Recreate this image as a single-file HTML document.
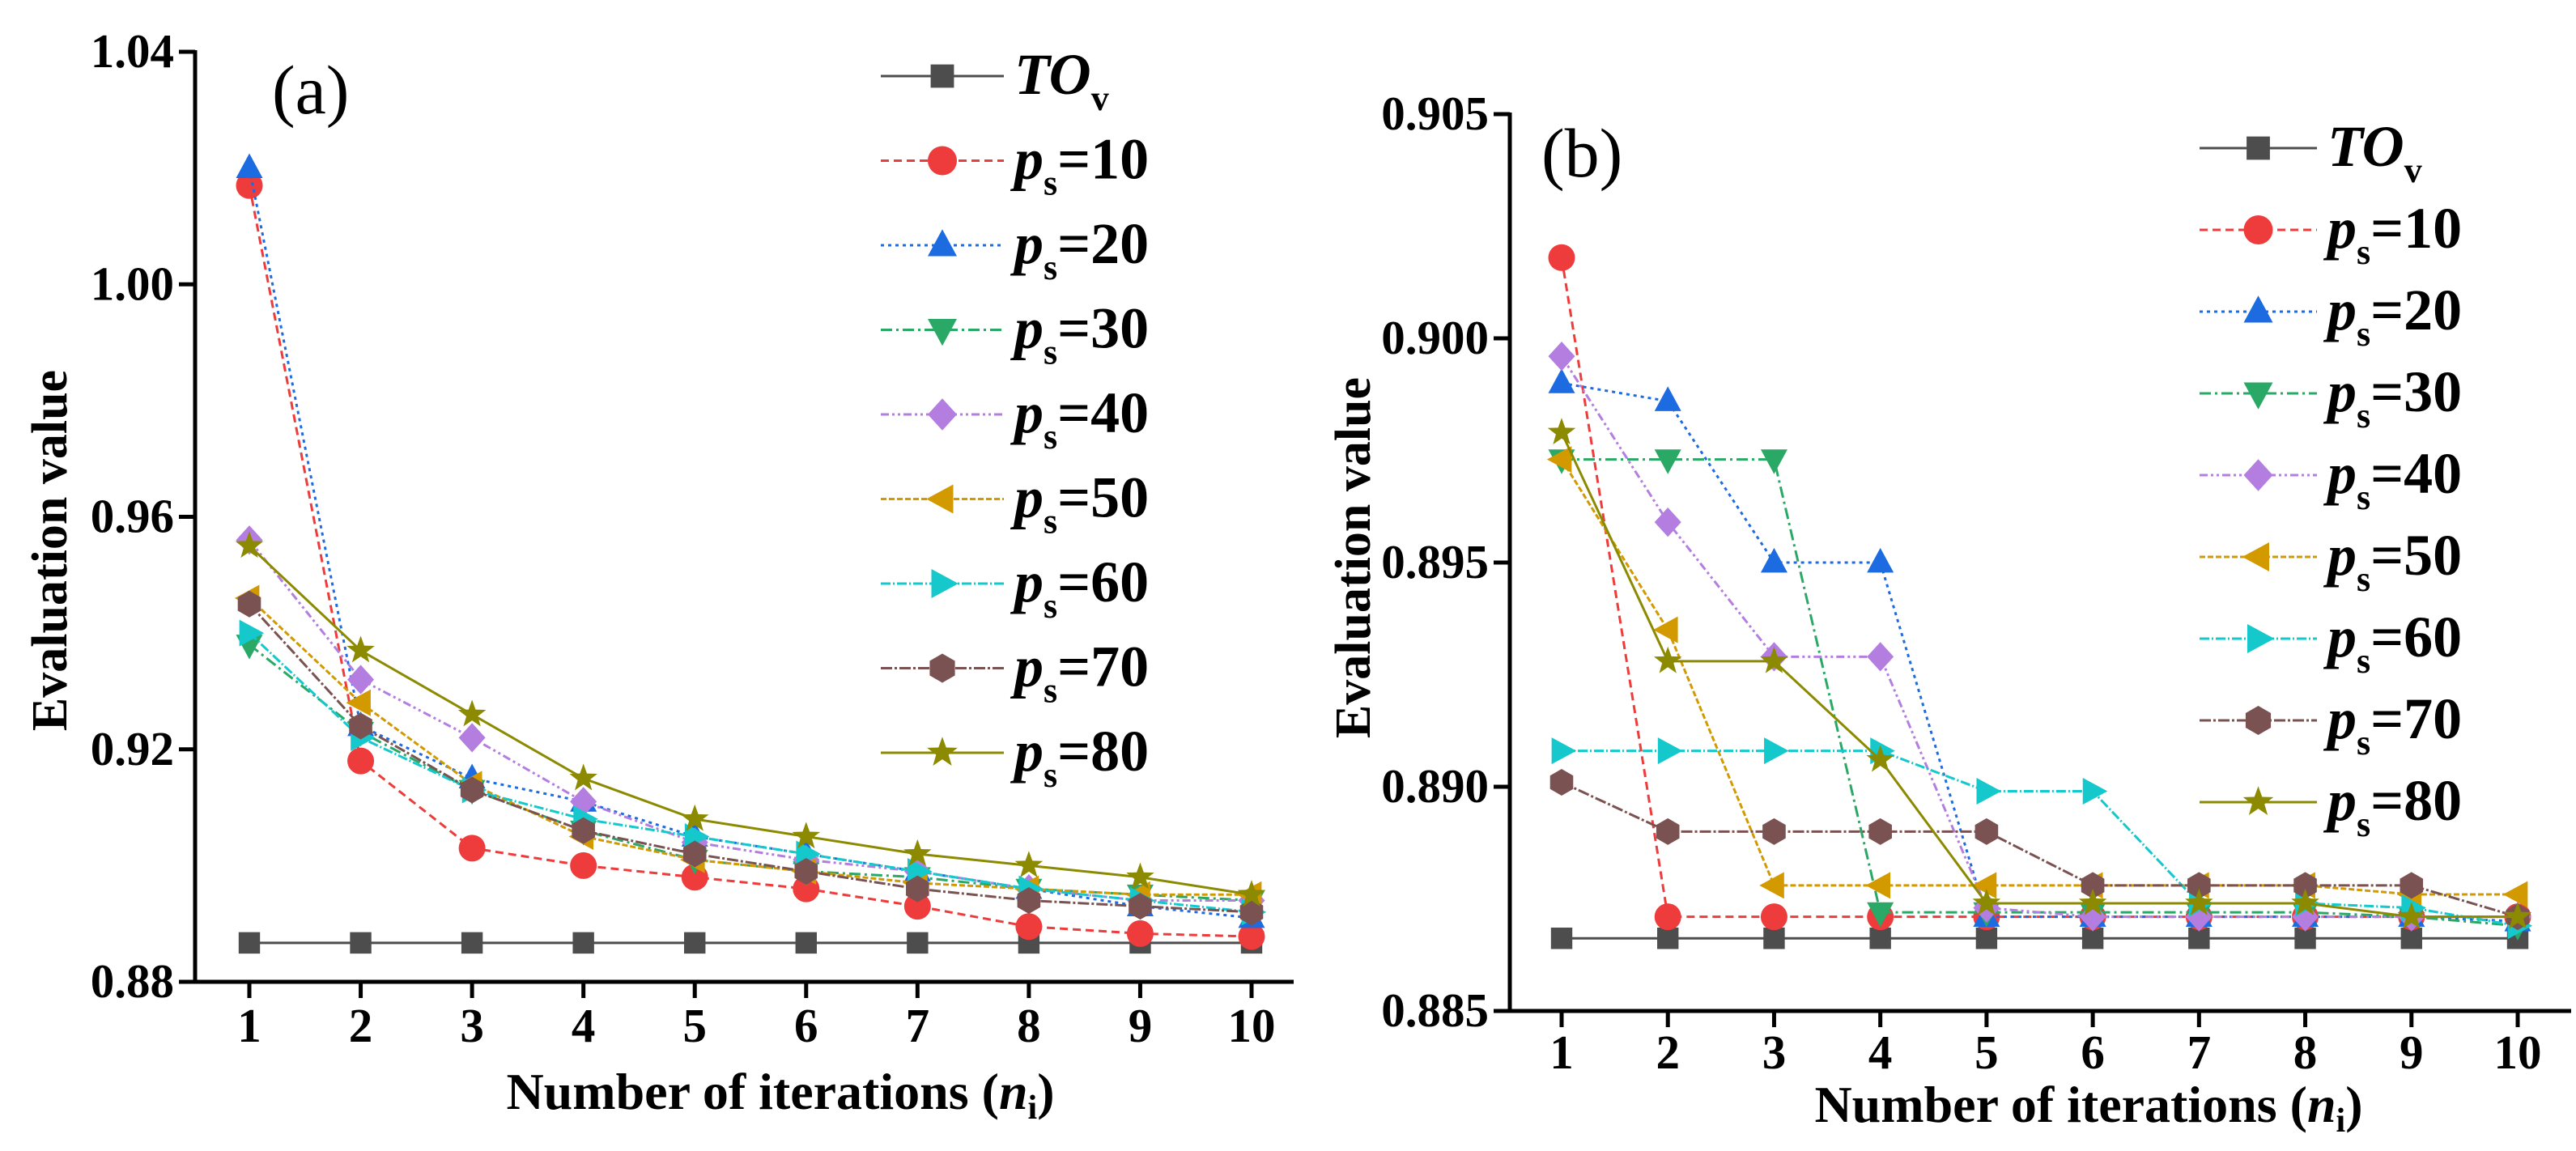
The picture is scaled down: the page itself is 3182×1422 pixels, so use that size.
<!DOCTYPE html>
<html><head><meta charset="utf-8"><style>
html,body{margin:0;padding:0;background:#fff;overflow:hidden}
svg{display:block}
text{font-family:"Liberation Serif",serif;font-weight:bold;fill:#000}
</style></head><body>
<svg id="chart" width="3182" height="1422" viewBox="0 0 3182 1422" xmlns="http://www.w3.org/2000/svg"></svg>
<script>
const iterations=[1,2,3,4,5,6,7,8,9,10];
const seriesNames=["TOv","ps=10","ps=20","ps=30","ps=40","ps=50","ps=60","ps=70","ps=80"];
const aTOv=[0.8867,0.8867,0.8867,0.8867,0.8867,0.8867,0.8867,0.8867,0.8867,0.8867];
const aP10=[1.017,0.918,0.903,0.900,0.898,0.896,0.893,0.8895,0.8883,0.8878];
const aP20=[1.020,0.924,0.915,0.911,0.905,0.902,0.899,0.896,0.893,0.891];
const aP30=[0.938,0.923,0.913,0.906,0.901,0.899,0.898,0.896,0.895,0.894];
const aP40=[0.956,0.932,0.922,0.911,0.904,0.901,0.899,0.896,0.894,0.894];
const aP50=[0.946,0.928,0.914,0.905,0.901,0.899,0.897,0.896,0.895,0.895];
const aP60=[0.940,0.922,0.913,0.908,0.905,0.902,0.899,0.896,0.894,0.892];
const aP70=[0.945,0.924,0.913,0.906,0.902,0.899,0.896,0.894,0.893,0.892];
const aP80=[0.955,0.937,0.926,0.915,0.908,0.905,0.902,0.900,0.898,0.895];
const bTOv=[0.88662,0.88662,0.88662,0.88662,0.88662,0.88662,0.88662,0.88662,0.88662,0.88662];
const bP10=[0.9018,0.8871,0.8871,0.8871,0.8871,0.8871,0.8871,0.8871,0.8871,0.8871];
const bP20=[0.8990,0.8986,0.8950,0.8950,0.8871,0.8871,0.8871,0.8871,0.8871,0.8870];
const bP30=[0.8973,0.8973,0.8973,0.8872,0.8872,0.8872,0.8872,0.8872,0.8871,0.8869];
const bP40=[0.8996,0.8959,0.8929,0.8929,0.8873,0.8871,0.8871,0.8871,0.8871,0.8871];
const bP50=[0.8973,0.8935,0.8878,0.8878,0.8878,0.8878,0.8878,0.8878,0.8876,0.8876];
const bP60=[0.8908,0.8908,0.8908,0.8908,0.8899,0.8899,0.8874,0.8874,0.8873,0.8869];
const bP70=[0.8901,0.8890,0.8890,0.8890,0.8890,0.8878,0.8878,0.8878,0.8878,0.8871];
const bP80=[0.8979,0.8928,0.8928,0.8906,0.8874,0.8874,0.8874,0.8874,0.8871,0.8871];
const aYTicks=[0.88,0.92,0.96,1.00,1.04];
const aYLabels=["0.88","0.92","0.96","1.00","1.04"];
const bYTicks=[0.885,0.890,0.895,0.900,0.905];
const bYLabels=["0.885","0.890","0.895","0.900","0.905"];

const colors=["#4d4d4d","#ee3b3b","#1c6be0","#2aa866","#b47ee0","#d39a00","#14c8cc","#7b5252","#8c8a00"];
const dashes=["","10,6","4,5","14,5,3,5","10,4,3,4,3,4","7,3","12,3,2,3","14,3,3,3","" ];
const markers=["square","circle","triangle","tridown","diamond","tleft","tright","hexagon","star"];
const NS="http://www.w3.org/2000/svg";
const svg=document.getElementById('chart');
function mk(tag,attrs,parent){const e=document.createElementNS(NS,tag);for(const k in attrs)e.setAttribute(k,attrs[k]);(parent||svg).appendChild(e);return e;}
function markerPath(type,x,y,r){
  switch(type){
    case "square": return `M${x-r*0.8},${y-r*0.8}h${1.6*r}v${1.6*r}h${-1.6*r}z`;
    case "circle": return `M${x-r},${y}a${r},${r} 0 1,0 ${2*r},0a${r},${r} 0 1,0 ${-2*r},0z`;
    case "triangle": return `M${x},${y-r*1.1}L${x+r},${y+r*0.75}L${x-r},${y+r*0.75}z`;
    case "tridown": return `M${x},${y+r*1.1}L${x+r},${y-r*0.75}L${x-r},${y-r*0.75}z`;
    case "diamond": return `M${x},${y-r*1.1}L${x+r},${y}L${x},${y+r*1.1}L${x-r},${y}z`;
    case "tleft": return `M${x-r*1.1},${y}L${x+r*0.75},${y-r}L${x+r*0.75},${y+r}z`;
    case "tright": return `M${x+r*1.1},${y}L${x-r*0.75},${y-r}L${x-r*0.75},${y+r}z`;
    case "hexagon": {let p="";for(let i=0;i<6;i++){const a=Math.PI/3*i+Math.PI/2;p+=(i?"L":"M")+(x+r*Math.cos(a))+","+(y+r*Math.sin(a));}return p+"z";}
    case "star": {let p="";for(let i=0;i<10;i++){const a=-Math.PI/2+Math.PI/5*i;const rr=i%2?r*0.45:r*1.1;p+=(i?"L":"M")+(x+rr*Math.cos(a))+","+(y+rr*Math.sin(a));}return p+"z";}
  }
}
function drawPanel(cfg){
  const g=mk('g',{});
  
  
  const xs=v=>cfg.x1+(v-1)*(cfg.x10-cfg.x1)/9;
  const ys=v=>cfg.yBot+(v-cfg.yMin)*(cfg.yTop-cfg.yBot)/(cfg.yMax-cfg.yMin);
  const ax=mk('path',{d:`M${cfg.axL},${cfg.yTop-2}V${cfg.yBot}H${cfg.axR}`,stroke:'#000','stroke-width':5,fill:'none'},g);
  
  
  cfg.yTicks.forEach((t,i)=>{
    const y=ys(t);
    mk('line',{x1:cfg.axL-20,x2:cfg.axL,y1:y,y2:y,stroke:'#000','stroke-width':5},g);
    const tx=mk('text',{x:cfg.axL-26,y:y+19,'text-anchor':'end','font-size':59},g);
    tx.textContent=cfg.yLabels[i];
    
    
  });
  iterations.forEach(v=>{
    const x=xs(v);
    mk('line',{x1:x,x2:x,y1:cfg.yBot,y2:cfg.yBot+20,stroke:'#000','stroke-width':5},g);
    const tx=mk('text',{x:x,y:cfg.xLabY,'text-anchor':'middle','font-size':59},g);
    tx.textContent=v;
    
    
  });
  cfg.data.forEach((arr,si)=>{
    const sg=mk('g',{},g);
    
    
    const d=arr.map((v,i)=>(i?'L':'M')+xs(iterations[i])+','+ys(v)).join('');
    const ln=mk('path',{d:d,stroke:colors[si],'stroke-width':3,fill:'none','stroke-dasharray':dashes[si]},sg);
    
    
    arr.forEach((v,i)=>{
      const m=mk('path',{d:markerPath(markers[si],xs(iterations[i]),ys(v),16.5),fill:colors[si]},sg);
      
      
    });
  });
  const lg=mk('g',{},g);
  
  
  seriesNames.forEach((n,si)=>{
    const y=cfg.legY0+si*cfg.legStep;
    const eg=mk('g',{},lg);
    
    
    mk('line',{x1:cfg.legX1,x2:cfg.legX2,y1:y,y2:y,stroke:colors[si],'stroke-width':3,'stroke-dasharray':dashes[si]},eg);
    mk('path',{d:markerPath(markers[si],(cfg.legX1+cfg.legX2)/2,y,18),fill:colors[si]},eg);
    const t=mk('text',{x:cfg.legTX,y:y+22,'font-size':72},eg);
    if(si===0){
      t.innerHTML='<tspan font-style="italic">TO</tspan><tspan font-size="44" dy="20">v</tspan>';
    } else {
      t.innerHTML='<tspan font-style="italic">p</tspan><tspan font-size="44" dy="20">s</tspan><tspan dy="-20">='+n.split('=')[1]+'</tspan>';
    }
  });
  const pl=mk('text',{x:cfg.plX,y:cfg.plY,'font-size':86,style:'font-weight:normal'},g);
  pl.textContent=cfg.panelLabel;
  
  
  const yt=mk('text',{x:0,y:0,'text-anchor':'middle','font-size':62,transform:`translate(${cfg.ytX},${cfg.ytY}) rotate(-90)`},g);
  yt.textContent='Evaluation value';
  
  
  const xt=mk('text',{x:cfg.xtX,y:cfg.xtY,'text-anchor':'middle','font-size':64},g);
  xt.innerHTML='Number of iterations (<tspan font-style="italic">n</tspan><tspan font-size="42" dy="12">i</tspan><tspan dy="-12">)</tspan>';
  
  
}
drawPanel({name:'panel-a',x1:308,x10:1546,axL:241,axR:1598,yTop:64,yBot:1213,yMin:0.88,yMax:1.04,
  yTicks:aYTicks,yLabels:aYLabels,xLabY:1287,data:[aTOv,aP10,aP20,aP30,aP40,aP50,aP60,aP70,aP80],
  legX1:1088,legX2:1240,legTX:1253,legY0:94,legStep:104.5,panelLabel:'(a)',plX:336,plY:140,
  ytX:82,ytY:680,xtX:964,xtY:1370});
drawPanel({name:'panel-b',x1:1929,x10:3110,axL:1865,axR:3176,yTop:141,yBot:1249,yMin:0.885,yMax:0.905,
  yTicks:bYTicks,yLabels:bYLabels,xLabY:1320,data:[bTOv,bP10,bP20,bP30,bP40,bP50,bP60,bP70,bP80],
  legX1:2717,legX2:2862,legTX:2875,legY0:183,legStep:101,panelLabel:'(b)',plX:1904,plY:218,
  ytX:1692,ytY:689,xtX:2580,xtY:1386});
</script>
</body></html>
